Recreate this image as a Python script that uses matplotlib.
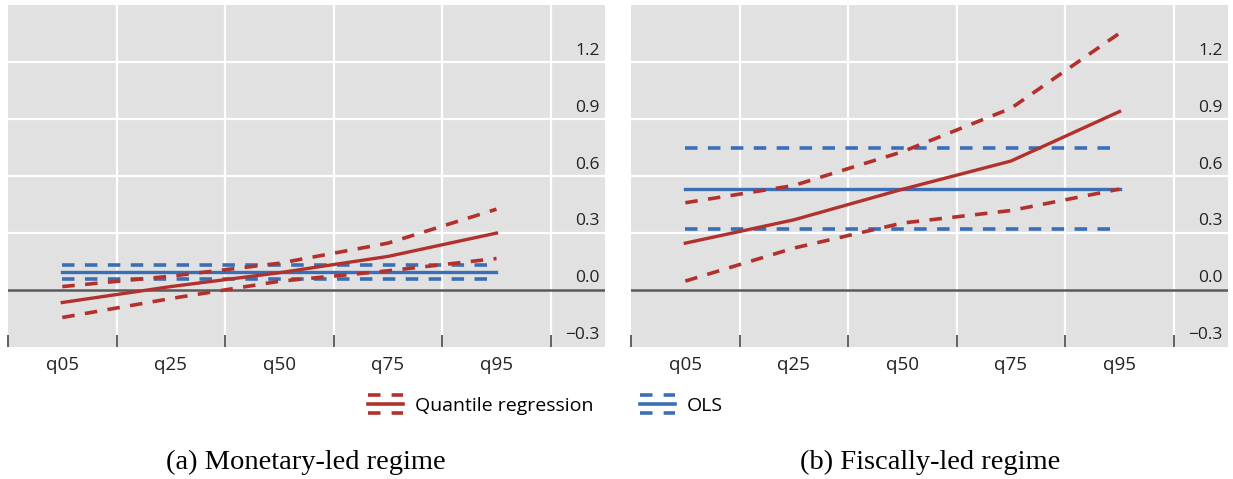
import matplotlib
matplotlib.use("Agg")
import matplotlib.pyplot as plt
from matplotlib.lines import Line2D
from matplotlib.legend_handler import HandlerBase

plt.rcParams['font.family'] = ['Open Sans', 'DejaVu Sans']
plt.rcParams['lines.scale_dashes'] = False

quantiles = ["q05", "q25", "q50", "q75", "q95"]
yticks = [-0.3, 0.0, 0.3, 0.6, 0.9, 1.2]

# (a) monetary-led
mon_qr = [-0.067, 0.017, 0.09, 0.176, 0.299]
mon_qr_hi = [0.017, 0.072, 0.14, 0.246, 0.425]
mon_qr_lo = [-0.146, -0.046, 0.045, 0.100, 0.165]
mon_ols = 0.093
mon_ols_hi = 0.131
mon_ols_lo = 0.056

# (b) fiscally-led
fis_qr = [0.246, 0.369, 0.53, 0.679, 0.94]
fis_qr_hi = [0.459, 0.55, 0.728, 0.957, 1.353]
fis_qr_lo = [0.046, 0.22, 0.352, 0.418, 0.531]
fis_ols = 0.533
fis_ols_hi = 0.746
fis_ols_lo = 0.322

RED = "#b3312d"
BLUE = "#3a6fb8"
BG = "#e1e1e1"
DASH = (0, (9, 7.5))


def draw(ax, qr, qr_hi, qr_lo, ols, ols_hi, ols_lo):
    ax.set_facecolor(BG)
    for s in ax.spines.values():
        s.set_visible(False)
    x = [i + 0.5 for i in range(len(quantiles))]
    # grid
    for g in range(1, 6):
        ax.axvline(g, color="white", lw=1.6, zorder=1)
    for v in [0.3, 0.6, 0.9, 1.2]:
        ax.axhline(v, color="white", lw=1.6, zorder=1)
    ax.axhline(0, color="#5a5a5a", lw=1.8, zorder=2)

    xs = [x[0], x[-1]]
    ax.plot(xs, [ols_hi] * 2, color=BLUE, lw=2.6, ls=DASH, zorder=3)
    ax.plot(xs, [ols_lo] * 2, color=BLUE, lw=2.6, ls=DASH, zorder=3)
    ax.plot(xs, [ols] * 2, color=BLUE, lw=2.4, zorder=3)
    ax.plot(x, qr_hi, color=RED, lw=2.6, ls=DASH, zorder=4)
    ax.plot(x, qr_lo, color=RED, lw=2.6, ls=DASH, zorder=4)
    ax.plot(x, qr, color=RED, lw=2.4, zorder=4)

    ax.set_xlim(0, 5.5)
    ax.set_ylim(-0.3, 1.5)
    ax.set_yticks([])
    ax.set_xticks(range(0, 6))
    ax.set_xticklabels([])
    ax.tick_params(axis="x", which="major", direction="in", length=9,
                   width=1.3, color="#555555")
    ax.set_xticks(x, minor=True)
    ax.set_xticklabels(quantiles, minor=True, fontsize=13.5, color="#222222")
    ax.tick_params(axis="x", which="minor", length=0, pad=7)

    for v in yticks:
        lbl = f"{v:.1f}".replace("-", "\u2212")
        ax.annotate(lbl, xy=(1, v), xycoords=("axes fraction", "data"),
                    xytext=(-4, 2.5), textcoords="offset points",
                    ha="right", va="bottom", fontsize=12.5, color="#222222")


class BandHandler(HandlerBase):
    def create_artists(self, legend, orig_handle, xdescent, ydescent,
                       width, height, fontsize, trans):
        c = orig_handle.get_color()
        arts = []
        for frac, ls in [(1.0, "d"), (0.5, "-"), (0.0, "d")]:
            y = -ydescent + height * frac
            ln = Line2D([-xdescent, -xdescent + width], [y, y], color=c,
                        lw=2.6, ls=(0, (9, 8)) if ls == "d" else "-",
                        transform=trans)
            arts.append(ln)
        return arts


fig = plt.figure(figsize=(12.33, 4.79), dpi=100)
ax1 = fig.add_axes([0.0065, 0.2762, 0.4842, 0.7127])
ax2 = fig.add_axes([0.5118, 0.2762, 0.4842, 0.7127])

draw(ax1, mon_qr, mon_qr_hi, mon_qr_lo, mon_ols, mon_ols_hi, mon_ols_lo)
draw(ax2, fis_qr, fis_qr_hi, fis_qr_lo, fis_ols, fis_ols_hi, fis_ols_lo)

fig.text(0.248, 0.034, "(a) Monetary-led regime", ha="center", va="center",
         fontsize=20.5, family="Liberation Serif")
fig.text(0.7545, 0.034, "(b) Fiscally-led regime", ha="center", va="center",
         fontsize=20.5, family="Liberation Serif")

h1 = Line2D([], [], color=RED)
h2 = Line2D([], [], color=BLUE)
fig.legend([h1, h2], ["Quantile regression", "OLS"],
           handler_map={Line2D: BandHandler()}, loc="center left",
           bbox_to_anchor=(0.2845, 0.155), ncol=2, frameon=False,
           fontsize=14, handlelength=1.8, handleheight=1.1,
           columnspacing=2.4, handletextpad=0.6)

fig.savefig("out.png", dpi=100)
